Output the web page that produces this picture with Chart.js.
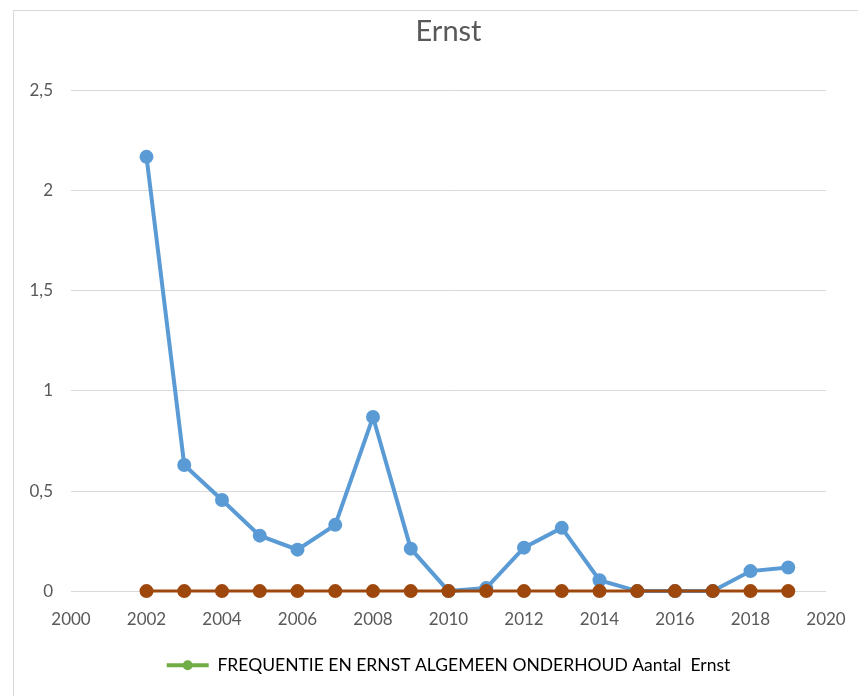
<!DOCTYPE html>
<html>
<head>
<meta charset="utf-8">
<script src="https://cdn.jsdelivr.net/npm/chart.js@4/dist/chart.umd.min.js"></script>
<style>
  html, body { margin: 0; padding: 0; background: #fff; overflow: hidden; }
  #frame { position: absolute; left: 13px; top: 10px; width: 845px; height: 686px; border: 1px solid #d9d9d9; border-right: none; border-bottom: none; box-sizing: border-box; }
  #wrap { position: absolute; left: 0; top: 0; width: 858px; height: 696px; }
</style>
</head>
<body>
<div id="frame"></div>
<div id="wrap"><canvas id="myChart"></canvas></div>
<script>
// data
const years = [2002, 2003, 2004, 2005, 2006, 2007, 2008, 2009, 2010, 2011, 2012, 2013, 2014, 2015, 2016, 2017, 2018, 2019];
const ernstValues = [2.17, 0.63, 0.455, 0.277, 0.207, 0.331, 0.87, 0.212, 0, 0.015, 0.217, 0.316, 0.054, 0, 0, 0, 0.1, 0.118];
const aantalValues = [0, 0, 0, 0, 0, 0, 0, 0, 0, 0, 0, 0, 0, 0, 0, 0, 0, 0];
const yTicks = [0, 0.5, 1, 1.5, 2, 2.5];
const legendLabel = 'FREQUENTIE EN ERNST ALGEMEEN ONDERHOUD Aantal  Ernst';

function toPoints(values) {
  return years.map((year, i) => ({ x: year, y: values[i] }));
}

const chartData = {
  datasets: [
    {
      label: 'Ernst',
      data: toPoints(ernstValues),
      borderColor: '#5b9bd5',
      backgroundColor: '#5b9bd5',
      borderWidth: 4,
      pointRadius: 5,
      pointHoverRadius: 5,
      clip: 10,
      order: 2
    },
    {
      label: 'Aantal',
      data: toPoints(aantalValues),
      borderColor: '#9e480e',
      backgroundColor: '#9e480e',
      borderWidth: 3,
      pointRadius: 5.5,
      pointHoverRadius: 5.5,
      clip: 10,
      order: 1
    }
  ]
};

// dot in the middle of the legend line, like Excel does
const legendDotPlugin = {
  id: 'legendDot',
  afterDraw: (chart) => {
    const boxes = chart.legend && chart.legend.legendHitBoxes;
    if (!boxes || !boxes.length) return;
    const b = boxes[0];
    const ctx = chart.ctx;
    ctx.save();
    ctx.fillStyle = '#70ad47';
    ctx.beginPath();
    ctx.arc(b.left + 21, b.top + b.height / 2, 5, 0, Math.PI * 2);
    ctx.fill();
    ctx.restore();
  }
};

const config = {
  type: 'line',
  data: chartData,
  options: {
    responsive: true,
    maintainAspectRatio: false,
    animation: false,
    layout: { padding: { left: 14, right: 32, top: 0, bottom: 12 } },
    plugins: {
      title: {
        display: true,
        fullSize: false,
        text: 'Ernst',
        color: '#595959',
        font: { family: 'Lato', size: 29, weight: 'normal' },
        padding: { top: 14, bottom: 42 }
      },
      legend: {
        position: 'bottom',
        fullSize: false,
        labels: {
          color: '#595959',
          font: { family: 'Lato', size: 17.5 },
          boxWidth: 42,
          boxHeight: 4,
          padding: 9,
          generateLabels: () => [{
            text: legendLabel,
            fillStyle: '#70ad47',
            strokeStyle: '#70ad47',
            lineWidth: 0,
            datasetIndex: 0
          }]
        }
      },
      tooltip: { enabled: false }
    },
    scales: {
      x: {
        type: 'linear',
        min: 2000,
        max: 2020,
        afterFit: (axis) => { axis.paddingLeft = 0; axis.paddingRight = 0; },
        ticks: {
          stepSize: 2,
          color: '#595959',
          font: { family: 'Lato', size: 17 },
          padding: 18,
          callback: (v) => String(v)
        },
        grid: { display: false, drawTicks: false },
        border: { display: false }
      },
      y: {
        min: 0,
        max: 2.5,
        afterBuildTicks: (axis) => { axis.ticks = yTicks.map(v => ({ value: v })); },
        afterFit: (axis) => { axis.width = 57; },
        ticks: {
          color: '#595959',
          font: { family: 'Lato', size: 17 },
          padding: 18,
          callback: (v) => String(v).replace('.', ',')
        },
        grid: { color: '#d9d9d9', lineWidth: 1, drawTicks: false },
        border: { display: false }
      }
    }
  },
  plugins: [legendDotPlugin]
};

let chart;

function createChart() {
  const ctx = document.getElementById('myChart').getContext('2d');
  if (chart) {
    chart.destroy();
  }
  chart = new Chart(ctx, config);
}

window.onload = createChart;
</script>
</body>
</html>
